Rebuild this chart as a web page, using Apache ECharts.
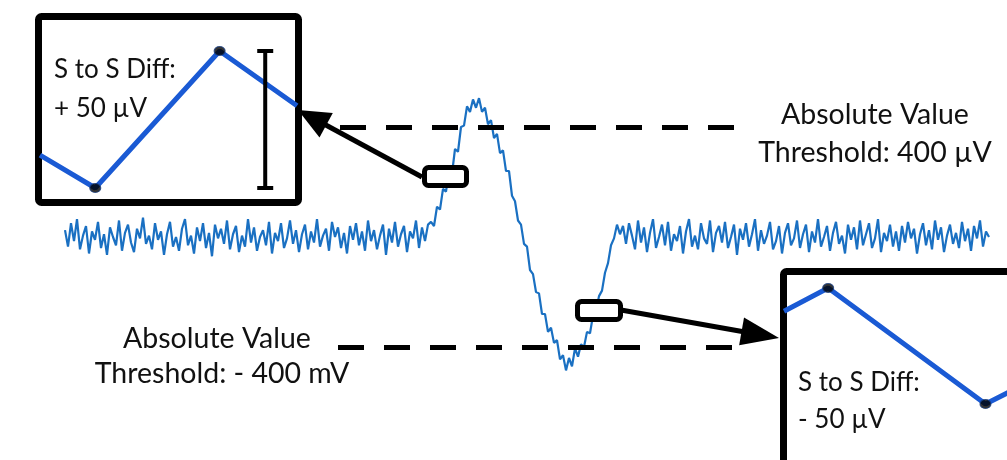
<!DOCTYPE html>
<html><head><meta charset="utf-8">
<script src="https://cdn.jsdelivr.net/npm/echarts@6/dist/echarts.min.js"></script>
<style>html,body{margin:0;padding:0;background:#fff}#c{width:1007px;height:460px}</style>
</head><body><div id="c"></div>
<script>
// ---- data (µV) ----
const sampleStep = 3;
const baselineLeft = [25,-35,50,-15,65,-45,5,40,-60,20,
  -10,55,-40,10,-65,35,0,-30,60,-50,
  15,45,-20,-55,30,-5,70,-25,5,-45,
  50,-10,20,-65,10,55,-35,0,-50,30,
  65,-30,5,-60,35,-15,50,-40,15,-70,
  45,-5,30,-25,60,-45,10,40,-55,5,
  -35,65,-20,35,-50,0,25,-30,55,-60,
  15,-15,50,-40,-5,60,-25,25,-55,10,
  45,-45,20,-20,65,-35,5,30,-50,55,
  0,35,-40,15,-60,40,-10,50,-30,20,
  -50,60,-15,25,-45,5,45,-65,30,-20,
  55,-35,10,40,-55,20,-5,60,-40,35,
  -15,45];
const pulse = [55,40,110,100,175,165,240,230,320,310,
  400,405,475,455,500,470,505,455,470,410,
  425,360,375,305,315,240,240,150,130,60,
  45,-25,-35,-120,-135,-200,-205,-280,-280,-345,
  -330,-385,-375,-445,-430,-485,-440,-470,-405,-435,
  -390,-400,-345,-350,-285,-270,-215,-195,-130,-95,
  -30,-5,45,10,40];
const baselineRight = [-25,50,5,-45,60,-20,35,-55,15,65,
  -40,0,45,-30,55,-50,10,-15,40,-60,
  20,65,-35,5,-45,50,-5,-25,60,-55,
  15,40,-20,55,-40,0,45,-65,30,-10,
  50,-35,10,65,-50,25,-25,5,55,-45,
  -15,40,-60,15,50,-30,-5,60,-40,10,
  45,-55,20,-20,65,-35,0,40,-50,15,
  55,-25,5,-60,45,-10,35,-45,60,-30,
  10,50,-40,-5,65,-55,15,-15,45,-35,
  20,-50,40,-20,55,-5,30,-60,10,50,
  -30,25,-45,60,-10,35,-55,5,45,-25,
  15,-40,55,-15,30,-50,40,-5,60,-35,
  20,0];
const thresholdUp = 400;
const thresholdDown = -400;
const thresholdSpanStart = [275, 273];
const thresholdSpanEnd = [673, 673];
// inset 1 (positive sample-to-sample difference)
const insetUpT = [0, 2, 6.5, 9.3];
const insetUpV = [212, 200, 250, 230];
const insetUpBarT = 8.15;
// inset 2 (negative sample-to-sample difference)
const insetDownT = [0, 1.6, 7.3, 8.3];
const insetDownV = [-210, -200, -250, -244];
const labels = {
  upper: ['Absolute Value', 'Threshold: 400 µV'],
  lower: ['Absolute Value', 'Threshold: - 400 mV'],
  insetUp: ['S to S Diff:', '+ 50 µV'],
  insetDown: ['S to S Diff:', '- 50 µV']
};

const signal = baselineLeft.concat(pulse, baselineRight);
const mainData = signal.map((v, i) => [i * sampleStep, v]);

const FONT = 'Lato';
const traceColor = '#1a70c2';
const insetColor = '#1a5ad4';

function arrow(x1, y1, x2, y2, len, half) {
  const dx = x2 - x1, dy = y2 - y1, L = Math.hypot(dx, dy);
  const ux = dx / L, uy = dy / L, nx = -uy, ny = ux;
  const bx = x2 - ux * len, by = y2 - uy * len;
  return [
    {type: 'line', shape: {x1: x1, y1: y1, x2: bx + ux * 2, y2: by + uy * 2}, style: {stroke: '#000', lineWidth: 5}, z: 20},
    {type: 'polygon', shape: {points: [[x2, y2], [bx + nx * half, by + ny * half], [bx - nx * half, by - ny * half]]}, style: {fill: '#000'}, z: 20}
  ];
}
function txt(s, x, y, align, fs) {
  return {type: 'text', x: x, y: y, style: {text: s, font: fs + 'px ' + FONT, fill: '#111', textAlign: align, textVerticalAlign: 'middle'}, z: 30};
}

const chart = echarts.init(document.getElementById('c'), null, {renderer: 'canvas'});
const hiddenAxis = {show: false};
chart.setOption({
  animation: false,
  backgroundColor: '#fff',
  grid: [
    {left: 65, top: 72, width: 924, height: 330},
    {left: 40, top: 51, width: 257, height: 137},
    {left: 784, top: 288, width: 223, height: 116}
  ],
  xAxis: [
    Object.assign({type: 'value', min: 0, max: 924, gridIndex: 0}, hiddenAxis),
    Object.assign({type: 'value', min: 0, max: 9.3, gridIndex: 1}, hiddenAxis),
    Object.assign({type: 'value', min: 0, max: 8.08, gridIndex: 2}, hiddenAxis)
  ],
  yAxis: [
    Object.assign({type: 'value', min: -600, max: 600, gridIndex: 0}, hiddenAxis),
    Object.assign({type: 'value', min: 200, max: 250, gridIndex: 1}, hiddenAxis),
    Object.assign({type: 'value', min: -250, max: -200, gridIndex: 2}, hiddenAxis)
  ],
  series: [
    {
      type: 'line', xAxisIndex: 0, yAxisIndex: 0, data: mainData, symbol: 'none',
      lineStyle: {color: traceColor, width: 2.2}, z: 2,
      markLine: {
        silent: true, symbol: 'none', z: 5,
        lineStyle: {color: '#000', width: 5, type: [26, 20]},
        label: {show: false},
        data: [
          [{coord: [thresholdSpanStart[0], thresholdUp]}, {coord: [thresholdSpanEnd[0], thresholdUp]}],
          [{coord: [thresholdSpanStart[1], thresholdDown]}, {coord: [thresholdSpanEnd[1], thresholdDown]}]
        ]
      }
    },
    {
      type: 'line', xAxisIndex: 1, yAxisIndex: 1, clip: false, symbol: 'none', z: 12,
      data: insetUpT.map((t, i) => [t, insetUpV[i]]),
      lineStyle: {color: insetColor, width: 5}
    },
    {
      type: 'scatter', xAxisIndex: 1, yAxisIndex: 1, clip: false, z: 13,
      symbol: 'circle', symbolSize: [11, 9],
      itemStyle: {color: '#000', borderColor: '#1a3f80', borderWidth: 1},
      data: [1, 2].map(i => [insetUpT[i], insetUpV[i]])
    },
    {
      type: 'line', xAxisIndex: 1, yAxisIndex: 1, clip: false, z: 13,
      symbol: 'rect', symbolSize: [16, 4], showSymbol: true,
      itemStyle: {color: '#000'},
      lineStyle: {color: '#000', width: 4},
      data: [[insetUpBarT, insetUpV[1]], [insetUpBarT, insetUpV[2]]]
    },
    {
      type: 'line', xAxisIndex: 2, yAxisIndex: 2, clip: false, symbol: 'none', z: 12,
      data: insetDownT.map((t, i) => [t, insetDownV[i]]),
      lineStyle: {color: insetColor, width: 5}
    },
    {
      type: 'scatter', xAxisIndex: 2, yAxisIndex: 2, clip: false, z: 13,
      symbol: 'circle', symbolSize: [11, 9],
      itemStyle: {color: '#000', borderColor: '#1a3f80', borderWidth: 1},
      data: [1, 2].map(i => [insetDownT[i], insetDownV[i]])
    }
  ],
  graphic: [
    {type: 'rect', shape: {x: 38.5, y: 16.5, width: 260, height: 186, r: 3}, style: {fill: '#fff', stroke: '#000', lineWidth: 7}, z: 1},
    {type: 'rect', shape: {x: 783.5, y: 271.5, width: 320, height: 260, r: 3}, style: {fill: '#fff', stroke: '#000', lineWidth: 7}, z: 1},
    {type: 'rect', shape: {x: 424.5, y: 167.5, width: 42, height: 18, r: 4}, style: {fill: '#fff', stroke: '#000', lineWidth: 5}, z: 20},
    {type: 'rect', shape: {x: 577.5, y: 301.5, width: 43, height: 18, r: 4}, style: {fill: '#fff', stroke: '#000', lineWidth: 5}, z: 20}
  ].concat(
    arrow(422, 177, 298, 110, 32, 14),
    arrow(621, 310, 779, 338, 38, 14),
    [
      txt(labels.upper[0], 875, 115, 'center', 28.5),
      txt(labels.upper[1], 875, 153, 'center', 28.5),
      txt(labels.lower[0], 217, 339, 'center', 28.5),
      txt(labels.lower[1], 222, 374, 'center', 28.5),
      txt(labels.insetUp[0], 54, 70, 'left', 26),
      txt(labels.insetUp[1], 54, 109, 'left', 26),
      txt(labels.insetDown[0], 798, 383, 'left', 26),
      txt(labels.insetDown[1], 798, 420, 'left', 26)
    ]
  )
});
</script></body></html>
